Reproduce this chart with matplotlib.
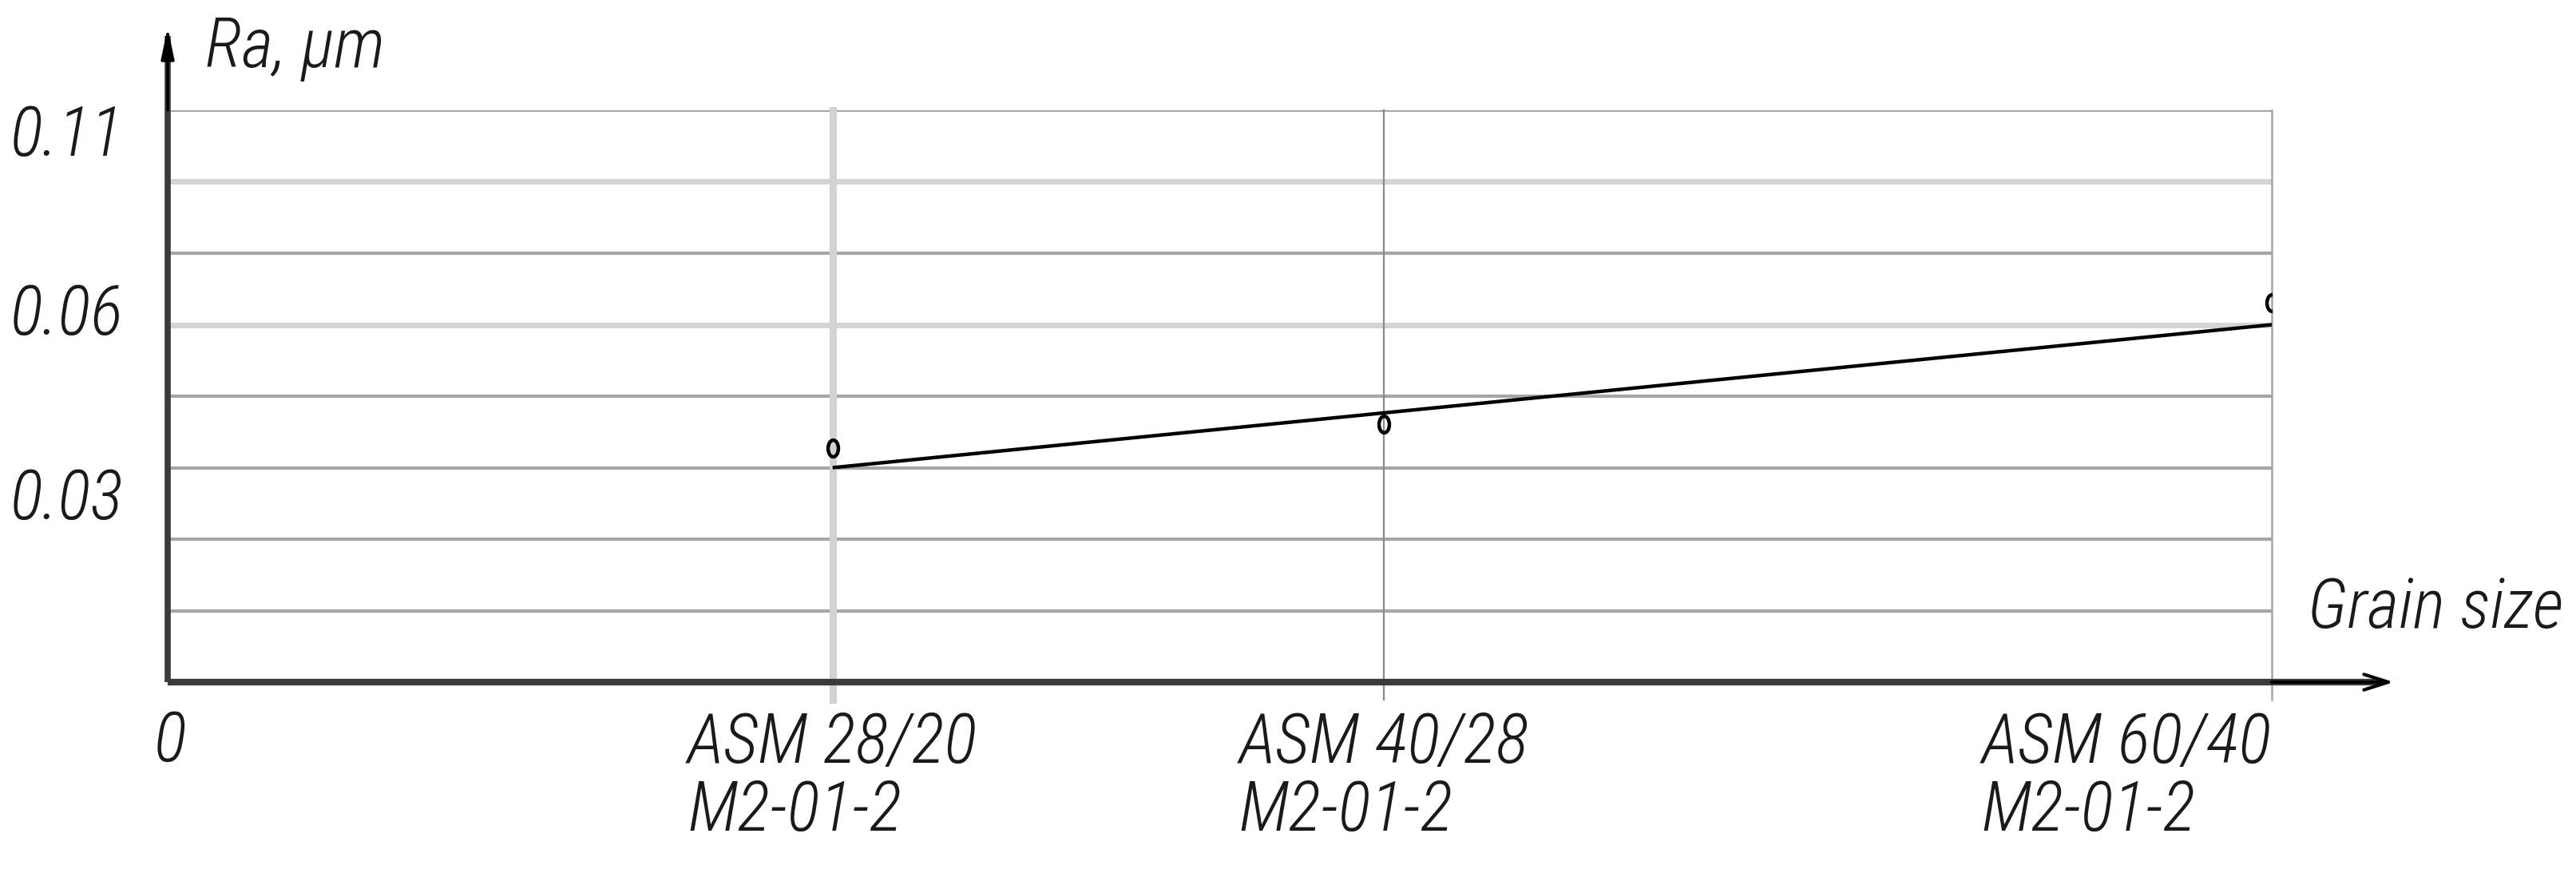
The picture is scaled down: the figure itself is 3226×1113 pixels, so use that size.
import matplotlib
matplotlib.use("Agg")
import matplotlib.pyplot as plt
import numpy as np
from matplotlib.path import Path
from matplotlib import font_manager
from matplotlib.transforms import blended_transform_factory

# ---------------- data ----------------
categories = ["ASM 28/20\nM2-01-2", "ASM 40/28\nM2-01-2", "ASM 60/40\nM2-01-2"]
ra_measured = [0.0393, 0.0433, 0.0637]          # circles
trend_values = [0.036, 0.060]                    # trend line at first / last grain size
y_tick_values = [0.0915, 0.0615, 0.0305]
y_tick_labels = ["0.11", "0.06", "0.03"]
grid_levels = [0.012, 0.024, 0.036, 0.048, 0.060, 0.072, 0.084, 0.096]
light_levels = [0.060, 0.084]
x_label = "Grain size"
y_label = "Ra, μm"

# ---------------- layout ----------------
cat_pos = [0.316, 0.578, 1.0]   # category positions (axes fraction)

names = {f.name for f in font_manager.fontManager.ttflist}
family = "DejaVu Sans"
for cand in ["Roboto Condensed", "Liberation Sans Narrow", "DejaVu Sans Condensed",
             "Open Sans Condensed", "Liberation Sans"]:
    if cand in names:
        family = cand
        break
plt.rcParams["font.family"] = [family, "DejaVu Sans"]

W, H, DPI = 3226, 1113, 100
fig = plt.figure(figsize=(W / DPI, H / DPI), dpi=DPI)
x0, x1, y0, y1 = 210, 2845, 854, 138
ax = fig.add_axes([x0 / W, (H - y0) / H, (x1 - x0) / W, (y0 - y1) / H])
ax.set_xlim(0, 1)
ax.set_ylim(0, 0.096)
for s in ax.spines.values():
    s.set_visible(False)
ax.set_xticks([])
ax.set_yticks([])

# horizontal grid
for g in grid_levels:
    light = any(abs(g - l) < 1e-9 for l in light_levels)
    ax.axhline(g, color="#d4d4d4" if light else "#a6a6a6",
               lw=5.0 if light else 3.0, zorder=1)

# vertical grid
vcols = ["#d2d2d2", "#8a8a8a", "#a6a6a6"]
vlws = [6.5, 1.6, 1.8]
for p, c, w in zip(cat_pos, vcols, vlws):
    ax.plot([p, p], [-0.003, 0.096], color=c, lw=w, zorder=1, clip_on=False)

# trend line
ax.plot([cat_pos[0], cat_pos[-1]], trend_values, color="black", lw=3.2, zorder=3,
        solid_capstyle="butt")

# measured points (tall small open ellipses)
circ = Path.unit_circle()
ell = Path(circ.vertices * np.array([0.62, 1.0]), circ.codes)
ax.plot(cat_pos, ra_measured, linestyle="none", marker=ell, markersize=15,
        markerfacecolor="none", markeredgecolor="black", markeredgewidth=3.2, zorder=4)

# axes with arrows
ax.plot([0, 0], [0, 1.13], transform=ax.transAxes, color="#3a3a3a", lw=5.5,
        clip_on=False, zorder=5, solid_capstyle="butt")
ax.plot([0, 1.05], [0, 0], transform=ax.transAxes, color="#3a3a3a", lw=6,
        clip_on=False, zorder=5, solid_capstyle="butt")
ax.annotate("", xy=(0, 1.145), xytext=(0, 1.0), xycoords="axes fraction",
            textcoords="axes fraction",
            arrowprops=dict(arrowstyle="-|>,head_length=2.4,head_width=0.5",
                            color="black", lw=2.5, shrinkA=0, shrinkB=0), zorder=6)
ax.annotate("", xy=(1.058, 0), xytext=(1.0, 0), xycoords="axes fraction",
            textcoords="axes fraction",
            arrowprops=dict(arrowstyle="->,head_length=2.2,head_width=0.7",
                            color="black", lw=3.0, shrinkA=0, shrinkB=0), zorder=6)

tstyle = dict(fontsize=62, style="italic", weight="light", color="#1a1a1a")

# y tick labels
bt = blended_transform_factory(ax.transAxes, ax.transData)
for v, lab in zip(y_tick_values, y_tick_labels):
    ax.text(-0.021, v, lab, transform=bt, ha="right", va="center", **tstyle)

# origin label
ax.text(0.001, -0.106, "0", transform=ax.transAxes, ha="center", va="center", **tstyle)

# category labels
has = ["center", "center", "right"]
for p, lab, ha in zip(cat_pos, categories, has):
    ax.text(p, -0.05, lab, transform=ax.transAxes, ha=ha, va="top",
            multialignment="left", linespacing=1.03, **tstyle)

# axis titles
ax.text(1.078, 0.128, x_label, transform=ax.transAxes, ha="center", va="center", **tstyle)
ax.text(0.018, 1.108, y_label, transform=ax.transAxes, ha="left", va="center", **tstyle)

fig.savefig("out.png", dpi=DPI)
